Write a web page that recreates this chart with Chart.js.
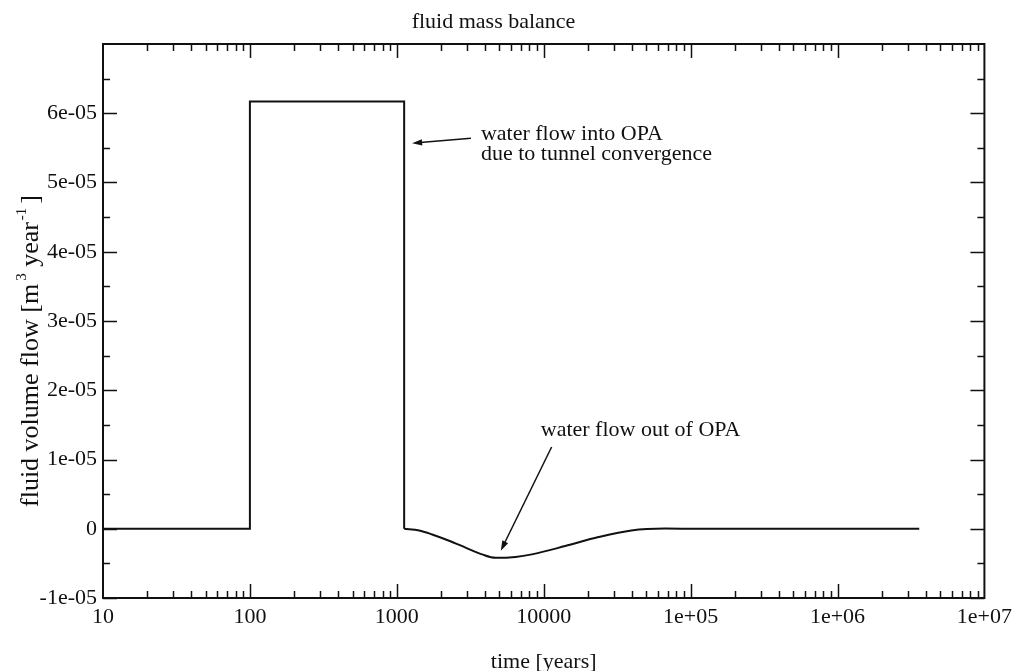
<!DOCTYPE html>
<html>
<head>
<meta charset="utf-8">
<script src="https://cdn.jsdelivr.net/npm/chart.js@4"></script>
<style>
  html, body { margin: 0; padding: 0; background: #fff; }
  #wrap { width: 1018px; height: 671px; }
</style>
</head>
<body>
<div id="wrap"><canvas id="c" width="1018" height="671"></canvas></div>
<script>
// Inflow pulse caused by tunnel convergence (step between 100 and ~1100 years)
const pulseTime = [10, 100, 100, 1122, 1122];
const pulseFlow = [0, 0, 6.17e-5, 6.17e-5, 0];

// Outflow phase afterwards, returning to zero
const recoveryTime = [1122, 1420, 1740, 2270, 2940, 3800, 4700, 6430, 8300, 14000, 23600, 39500, 67000, 112000, 3600000];
const recoveryFlow = [0, -2.4e-7, -8.2e-7, -1.73e-6, -2.73e-6, -3.7e-6, -4.2e-6, -4.07e-6, -3.7e-6, -2.5e-6, -1.2e-6, -2.4e-7, 3e-8, 0, 0];

const xTickValues = [10, 100, 1000, 10000, 1e5, 1e6, 1e7];
const xTickLabels = ['10', '100', '1000', '10000', '1e+05', '1e+06', '1e+07'];
const yTickValues = [-1e-5, 0, 1e-5, 2e-5, 3e-5, 4e-5, 5e-5, 6e-5];
const yTickLabels = ['-1e-05', '0', '1e-05', '2e-05', '3e-05', '4e-05', '5e-05', '6e-05'];

// Callout anchors in data units: [time, flow]
const inflowNote = { head: [1271, 5.568e-5], tail: [3196, 5.64e-5], text: [3736, 5.61e-5],
                     lines: ['water flow into OPA', 'due to tunnel convergence'] };
const outflowNote = { head: [5105, -3.17e-6], tail: [11320, 1.18e-5], text: [9550, 1.338e-5],
                      lines: ['water flow out of OPA'] };

const SERIF = "'Liberation Serif', 'Times New Roman', serif";
const INK = '#111';

function toPts(xs, ys) { return xs.map((x, i) => ({ x: x, y: ys[i] })); }

function arrow(ctx, x0, y0, x1, y1) {
  const a = Math.atan2(y1 - y0, x1 - x0);
  const len = 10, half = 3.2;
  ctx.beginPath();
  ctx.moveTo(x0, y0);
  ctx.lineTo(x1 - Math.cos(a) * len * 0.8, y1 - Math.sin(a) * len * 0.8);
  ctx.stroke();
  ctx.beginPath();
  ctx.moveTo(x1, y1);
  ctx.lineTo(x1 - Math.cos(a) * len + Math.sin(a) * half, y1 - Math.sin(a) * len - Math.cos(a) * half);
  ctx.lineTo(x1 - Math.cos(a) * len - Math.sin(a) * half, y1 - Math.sin(a) * len + Math.cos(a) * half);
  ctx.closePath();
  ctx.fill();
}

// Frame with inward tick marks on all four sides
const framePlugin = {
  id: 'frame',
  afterDatasetsDraw(chart) {
    const { ctx, chartArea: a, scales: { x, y } } = chart;
    ctx.save();
    ctx.strokeStyle = INK;
    ctx.lineWidth = 2;
    ctx.strokeRect(a.left, a.top, a.right - a.left, a.bottom - a.top);
    ctx.lineWidth = 1.5;
    const major = 14, minor = 7;
    ctx.beginPath();
    // x: decades and 2..9 subdivisions
    for (let d = 10; d < 1e7; d *= 10) {
      for (let m = 1; m <= 9; m++) {
        if (m === 1 && d === 10) continue;
        const px = Math.round(x.getPixelForValue(d * m)) + 0.5;
        const L = (m === 1) ? major : minor;
        ctx.moveTo(px, a.bottom); ctx.lineTo(px, a.bottom - L);
        ctx.moveTo(px, a.top); ctx.lineTo(px, a.top + L);
      }
    }
    // y: labelled values and half steps
    yTickValues.forEach(v => {
      const py = Math.round(y.getPixelForValue(v)) + 0.5;
      ctx.moveTo(a.left, py); ctx.lineTo(a.left + major, py);
      ctx.moveTo(a.right, py); ctx.lineTo(a.right - major, py);
      const h = Math.round(y.getPixelForValue(v + 5e-6)) + 0.5;
      ctx.moveTo(a.left, h); ctx.lineTo(a.left + minor, h);
      ctx.moveTo(a.right, h); ctx.lineTo(a.right - minor, h);
    });
    ctx.stroke();
    ctx.restore();
  }
};

// Axis titles and callouts
const textPlugin = {
  id: 'texts',
  afterDraw(chart) {
    const { ctx, chartArea: a, scales: { x, y } } = chart;
    ctx.save();
    ctx.fillStyle = INK;
    ctx.strokeStyle = INK;
    ctx.lineWidth = 1.5;

    // x axis title
    ctx.font = '22px ' + SERIF;
    ctx.textAlign = 'center';
    ctx.textBaseline = 'alphabetic';
    ctx.fillText('time [years]', (a.left + a.right) / 2, a.bottom + 70);

    // y axis title with superscripts, rotated
    const parts = [
      { t: 'fluid volume flow [m', sup: false },
      { t: '3', sup: true, gap: 3 },
      { t: ' year', sup: false },
      { t: '-1', sup: true, gap: 2 },
      { t: ']', sup: false, gap: 4 }
    ];
    ctx.save();
    ctx.translate(38, a.bottom - 91);
    ctx.rotate(-Math.PI / 2);
    ctx.textAlign = 'left';
    let cx = 0;
    parts.forEach(p => {
      cx += p.gap || 0;
      ctx.font = (p.sup ? '15px ' : '26px ') + SERIF;
      ctx.fillText(p.t, cx, p.sup ? -12 : 0);
      cx += ctx.measureText(p.t).width;
    });
    ctx.restore();

    // callouts
    ctx.font = '22px ' + SERIF;
    ctx.textAlign = 'left';
    [inflowNote, outflowNote].forEach(n => {
      const tx = x.getPixelForValue(n.text[0]);
      const ty = y.getPixelForValue(n.text[1]);
      n.lines.forEach((line, i) => ctx.fillText(line, tx, ty + i * 20));
      arrow(ctx, x.getPixelForValue(n.tail[0]), y.getPixelForValue(n.tail[1]),
                 x.getPixelForValue(n.head[0]), y.getPixelForValue(n.head[1]));
    });
    ctx.restore();
  }
};

new Chart(document.getElementById('c'), {
  type: 'line',
  data: {
    datasets: [
      { data: toPts(pulseTime, pulseFlow), borderColor: INK, borderWidth: 2, pointRadius: 0, tension: 0 },
      { data: toPts(recoveryTime, recoveryFlow), borderColor: INK, borderWidth: 2, pointRadius: 0,
        cubicInterpolationMode: 'monotone' }
    ]
  },
  options: {
    responsive: false,
    animation: false,
    devicePixelRatio: 1,
    layout: { padding: { left: 0, right: 31, top: 0, bottom: 0 } },
    plugins: {
      legend: { display: false },
      tooltip: { enabled: false },
      title: {
        display: true,
        text: 'fluid mass balance',
        color: INK,
        font: { family: SERIF, size: 22, weight: 'normal' },
        padding: { top: 8.8, bottom: 8.8 }
      }
    },
    scales: {
      x: {
        type: 'logarithmic',
        min: 10,
        max: 1e7,
        afterBuildTicks: s => { s.ticks = xTickValues.map(v => ({ value: v })); },
        afterFit: s => { s.height = 73; },
        grid: { display: false, drawTicks: false },
        border: { display: false },
        ticks: {
          autoSkip: false, maxRotation: 0, padding: 6, color: INK,
          font: { family: SERIF, size: 22 },
          callback: (v, i) => xTickLabels[i]
        }
      },
      y: {
        type: 'linear',
        min: -1e-5,
        max: 7e-5,
        afterBuildTicks: s => { s.ticks = yTickValues.map(v => ({ value: v })); },
        afterFit: s => { s.width = 103; },
        grid: { display: false, drawTicks: false },
        border: { display: false },
        ticks: {
          padding: 6, color: INK,
          font: { family: SERIF, size: 22 },
          callback: (v, i) => yTickLabels[i]
        }
      }
    }
  },
  plugins: [framePlugin, textPlugin]
});
</script>
</body>
</html>
